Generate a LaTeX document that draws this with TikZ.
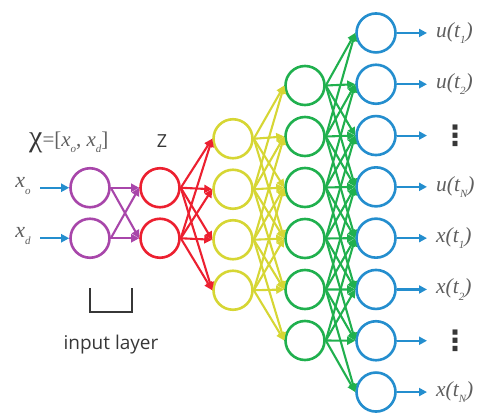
\documentclass[tikz,border=0pt]{standalone}
\usepackage{fontspec}
\setmainfont{Liberation Serif}
\newfontfamily\labfont{Open Sans}
\newfontfamily\dvfont{DejaVu Sans}
\usetikzlibrary{arrows.meta}
\definecolor{cpur}{RGB}{168,70,170}
\definecolor{cred}{RGB}{236,32,48}
\definecolor{cyel}{RGB}{214,214,52}
\definecolor{cgrn}{RGB}{32,176,78}
\definecolor{cblu}{RGB}{36,142,206}
\definecolor{ctxt}{RGB}{95,95,95}
\definecolor{cdark}{RGB}{55,55,55}
\newcommand{\sbs}[1]{\raisebox{-0.3em}{\fontsize{11}{11}\selectfont #1}}
\begin{document}
\begin{tikzpicture}[x=1pt,y=-1pt,
  neuron/.style={circle,draw=#1,line width=2.6pt,minimum size=39pt,inner sep=0pt},
  conn/.style={draw=#1,line width=2.1pt,-{Triangle[length=8pt,width=8pt]}},
  outlab/.style={anchor=west,text=ctxt,font=\fontsize{21.5}{21.5}\selectfont\itshape,inner sep=0pt},
  inlab/.style={text=ctxt,font=\fontsize{22}{22}\selectfont\itshape,inner sep=0pt},
  vdot/.style={text=cdark,font=\dvfont\bfseries\fontsize{28}{28}\selectfont,inner sep=0pt}]
\useasboundingbox (0,0) rectangle (477,415);
% layers
\foreach \i in {1,2} {
  \node[neuron=cpur] (p\i) at (90,{213+(\i-1.5)*50.5}) {};
  \node[neuron=cred] (r\i) at (160,{213+(\i-1.5)*50.5}) {};
}
\foreach \i in {1,...,4}
  \node[neuron=cyel] (y\i) at (233,{214.5+(\i-2.5)*50.5}) {};
\foreach \i in {1,...,6}
  \node[neuron=cgrn] (g\i) at (305,{213+(\i-3.5)*51}) {};
\foreach \i in {1,...,8}
  \node[neuron=cblu] (b\i) at (376,{212.5+(\i-4.5)*51.3}) {};
% connections
\foreach \i in {1,2} \foreach \j in {1,2}
  \draw[conn=cpur] (p\i.east) -- (r\j.west);
\foreach \i in {1,2} \foreach \j in {1,...,4}
  \draw[conn=cred] (r\i.east) -- (y\j.west);
\foreach \i in {1,...,4} \foreach \j in {1,...,6} {
  \pgfmathsetmacro\dd{abs((214.5+(\i-2.5)*50.5)-(213+(\j-3.5)*51))}
  \ifdim\dd pt<106pt \draw[conn=cyel] (y\i.east) -- (g\j.west); \fi
}
\foreach \i in {1,...,6} \foreach \j in {1,...,8} {
  \pgfmathsetmacro\dd{abs((213+(\i-3.5)*51)-(212.5+(\j-4.5)*51.3))}
  \ifdim\dd pt<106pt \draw[conn=cgrn] (g\i.east) -- (b\j.west); \fi
}
% outputs
\foreach \i in {1,...,8} {
  \coordinate (o\i) at (427,{212.5+(\i-4.5)*51.3});
  \draw[conn=cblu] (b\i.east) -- (o\i);
}
\node[outlab] (l1) at (436,{212.5-3.5*51.3}) {u(t\sbs{1})};
\node[outlab] (l2) at (436,{212.5-2.5*51.3}) {u(t\sbs{2})};
\node[vdot] (l3) at (455,{212.5-1.5*51.3}) {⋮};
\node[outlab] (l4) at (436,{212.5-0.5*51.3}) {u(t\sbs{N})};
\node[outlab] (l5) at (436,{212.5+0.5*51.3}) {x(t\sbs{1})};
\node[outlab] (l6) at (436,{212.5+1.5*51.3}) {x(t\sbs{2})};
\node[vdot] (l7) at (455,{212.5+2.5*51.3}) {⋮};
\node[outlab] (l8) at (436,{212.5+3.5*51.3}) {x(t\sbs{N})};
% inputs
\node[inlab] (xo) at (23,186) {x\sbs{o}};
\node[inlab] (xd) at (23,236) {x\sbs{d}};
\coordinate (ia) at (40,187.75);
\coordinate (ib) at (40,238.25);
\draw[conn=cblu] (ia) -- (p1.west);
\draw[conn=cblu] (ib) -- (p2.west);
% top labels
\node[inner sep=0pt,anchor=west] (chi) at (29,142)
  {{\fontsize{30}{30}\selectfont\color{cdark}χ}{\fontsize{21}{21}\selectfont\color{ctxt}=[\textit{x\sbs{o}}, \textit{x\sbs{d}}]}};
\node[inner sep=0pt,text=cdark,font=\labfont\fontsize{18}{18}\selectfont] (z) at (162,141) {Z};
% input layer bracket
\coordinate (k1) at (90,288);
\coordinate (k2) at (90,312);
\coordinate (k3) at (132,312);
\coordinate (k4) at (132,288);
\draw[cdark,line width=2.2pt] (k1) -- (k2) -- (k3) -- (k4);
\node[inner sep=0pt,text=cdark,font=\labfont\fontsize{19}{19}\selectfont] (il) at (111,345) {input layer};
\end{tikzpicture}
\end{document}
